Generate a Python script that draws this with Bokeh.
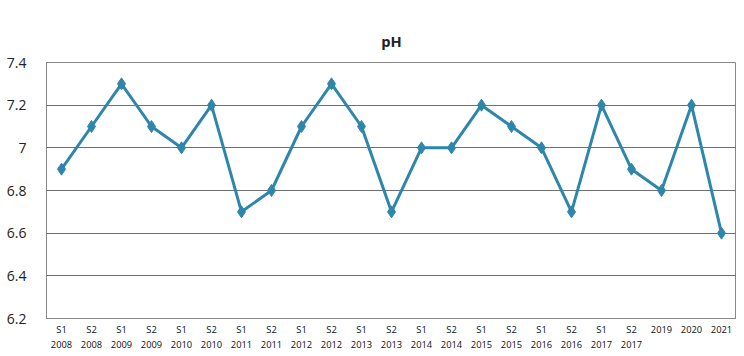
from bokeh.plotting import figure
from bokeh.models import FixedTicker, Range1d
from bokeh.embed import file_html
from bokeh.resources import INLINE

periods = ["S1\n2008", "S2\n2008", "S1\n2009", "S2\n2009", "S1\n2010", "S2\n2010",
           "S1\n2011", "S2\n2011", "S1\n2012", "S2\n2012", "S1\n2013", "S2\n2013",
           "S1\n2014", "S2\n2014", "S1\n2015", "S2\n2015", "S1\n2016", "S2\n2016",
           "S1\n2017", "S2\n2017", "2019", "2020", "2021"]
ph_values = [6.9, 7.1, 7.3, 7.1, 7.0, 7.2, 6.7, 6.8, 7.1, 7.3, 7.1, 6.7,
             7.0, 7.0, 7.2, 7.1, 7.0, 6.7, 7.2, 6.9, 6.8, 7.2, 6.6]
y_ticks = [6.2, 6.4, 6.6, 6.8, 7.0, 7.2, 7.4]
y_labels = ["6.2", "6.4", "6.6", "6.8", "7", "7.2", "7.4"]

p = figure(x_range=periods, frame_width=690, frame_height=256, output_backend="svg",
           toolbar_location=None, title="pH")
p.y_range = Range1d(6.2, 7.4)
p.min_border_left = 46
p.min_border_right = 0
p.min_border_top = 62
p.min_border_bottom = 28

p.title.align = "center"
p.title.text_font = "Open Sans"
p.title.text_font_size = "11pt"
p.title.text_font_style = "bold"
p.title.text_color = "#222222"
p.title.standoff = 24

p.line(x=periods, y=ph_values, line_color="#2E86AB", line_width=3)
p.scatter(x=periods, y=ph_values, marker="diamond", size=12,
          fill_color="#2E86AB", line_color="#2E86AB")

p.yaxis.ticker = FixedTicker(ticks=y_ticks)
p.yaxis.major_label_overrides = {t: l for t, l in zip(y_ticks, y_labels)}
p.yaxis.major_label_text_font = "Open Sans"
p.yaxis.major_label_text_font_size = "10.5pt"
p.yaxis.major_label_text_color = "#222222"
p.yaxis.axis_line_color = "#888888"
p.yaxis.major_tick_line_color = None
p.yaxis.minor_tick_line_color = None
p.yaxis.major_label_standoff = 14

p.xaxis.major_label_text_font = "Open Sans"
p.xaxis.major_label_text_font_size = "7pt"
p.xaxis.major_label_text_color = "#111111"
p.xaxis.axis_line_color = "#888888"
p.xaxis.major_tick_line_color = None
p.xaxis.major_tick_out = 0
p.xaxis.major_label_standoff = 4

p.xgrid.grid_line_color = None
p.ygrid.grid_line_color = "#707070"
p.ygrid.grid_line_width = 1
p.outline_line_color = "#888888"
p.outline_line_width = 1
p.border_fill_color = "white"
p.background_fill_color = "white"

open("out.html", "w").write(file_html(p, INLINE))
